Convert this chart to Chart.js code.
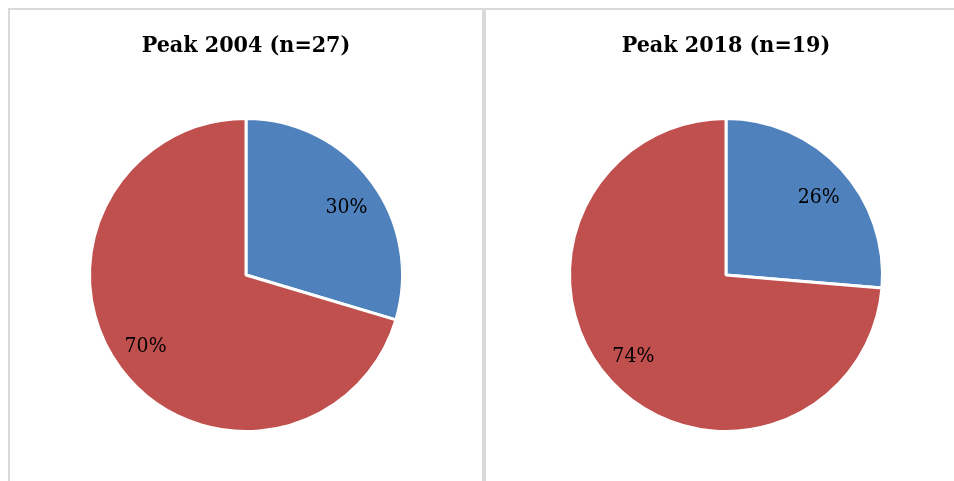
<!DOCTYPE html>
<html>
<head>
<meta charset="utf-8">
<script src="https://cdn.jsdelivr.net/npm/chart.js@4/dist/chart.umd.min.js"></script>
<style>
  html, body { margin: 0; padding: 0; background: #fff; overflow: hidden; }
  body { width: 954px; height: 481px; position: relative; }
  .panel { position: absolute; top: 8px; height: 500px; border-top: 2px solid #d9d9d9; box-sizing: border-box; }
  #left { left: 8px; width: 476px; border-left: 2px solid #d9d9d9; border-right: 2px solid #d9d9d9; }
  #right { left: 484px; width: 480px; border-left: 2px solid #d9d9d9; }
  canvas { position: absolute; top: 0; left: 0; }
</style>
</head>
<body>
<div class="panel" id="left"><canvas id="chartLeft" width="472" height="471"></canvas></div>
<div class="panel" id="right"><canvas id="chartRight" width="468" height="471"></canvas></div>
<script>
// values
const categories = ['Group 1', 'Group 2'];
const titles = ['Peak 2004 (n=27)', 'Peak 2018 (n=19)'];
const peak2004 = [8, 19];
const peak2018 = [5, 14];
const sliceColors = ['#4F81BD', '#C0504D'];

const serif = '"DejaVu Serif Condensed", "DejaVu Serif", serif';

// draws the percentage inside each slice
const pctLabels = {
    id: 'pctLabels',
    afterDatasetsDraw(chart) {
        const ctx = chart.ctx;
        const data = chart.data.datasets[0].data;
        const total = data.reduce((a, b) => a + b, 0);
        const meta = chart.getDatasetMeta(0);
        ctx.save();
        ctx.font = '21px ' + serif;
        ctx.fillStyle = '#000';
        ctx.textAlign = 'center';
        ctx.textBaseline = 'middle';
        meta.data.forEach((arc, i) => {
            const p = arc.getProps(['x', 'y', 'startAngle', 'endAngle', 'outerRadius'], true);
            const mid = (p.startAngle + p.endAngle) / 2 + 2 * Math.PI / 180;
            const r = p.outerRadius * 0.78;
            ctx.fillText(Math.round(data[i] / total * 100) + '%', p.x + Math.cos(mid) * r, p.y + Math.sin(mid) * r + 2);
        });
        ctx.restore();
    }
};

function makePie(id, title, values, padLeft) {
    return new Chart(document.getElementById(id), {
        type: 'pie',
        data: {
            labels: categories,
            datasets: [{
                data: values,
                backgroundColor: sliceColors,
                borderColor: '#fff',
                borderWidth: 3
            }]
        },
        options: {
            responsive: false,
            animation: false,
            layout: { padding: { top: 0, bottom: 48, left: padLeft, right: 0 } },
            plugins: {
                legend: { display: false },
                tooltip: { enabled: false },
                title: {
                    display: true,
                    text: title,
                    color: '#000',
                    font: { family: serif, size: 23, weight: 'bold', lineHeight: 1.2 },
                    padding: { top: 22, bottom: 57.4 }
                }
            }
        },
        plugins: [pctLabels]
    });
}

makePie('chartLeft', titles[0], peak2004, 0);
makePie('chartRight', titles[1], peak2018, 12);
</script>
</body>
</html>
